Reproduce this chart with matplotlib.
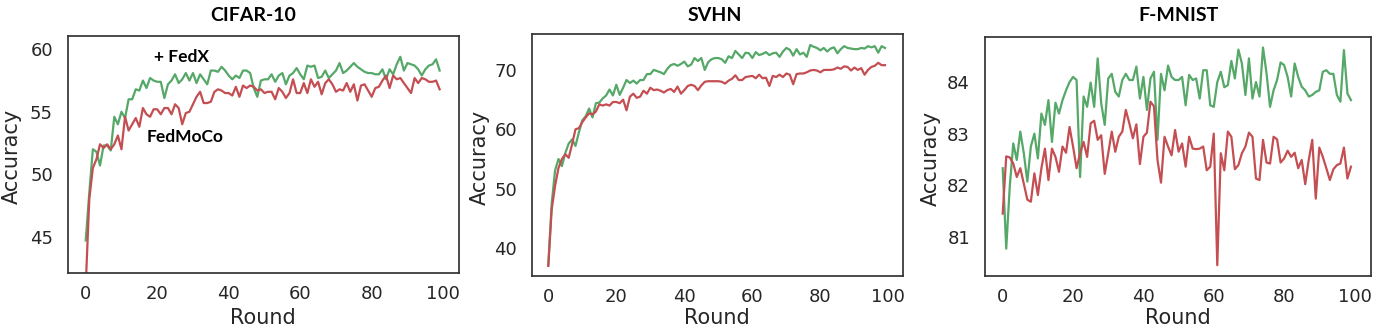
import numpy as np
import matplotlib
matplotlib.use("Agg")
import matplotlib.pyplot as plt

rounds = list(range(100))

cifar_fedx = [44.7, 48.5, 52.0, 51.8, 50.7, 52.3, 52.3, 51.9, 54.6, 54.0,
              55.0, 54.5, 56.0, 56.0, 56.8, 56.7, 57.5, 56.9, 57.7, 57.5,
              57.4, 57.4, 56.1, 57.2, 57.5, 58.0, 57.3, 57.6, 58.1, 57.5,
              58.1, 57.3, 58.0, 57.6, 57.2, 58.3, 58.3, 58.2, 58.6, 58.3,
              57.9, 57.6, 57.9, 57.7, 58.3, 58.3, 58.1, 56.9, 56.2, 57.5,
              57.6, 57.6, 58.0, 57.4, 57.9, 58.1, 57.2, 57.9, 58.1, 58.5,
              58.0, 57.6, 58.7, 58.6, 58.7, 57.7, 57.8, 58.3, 57.7, 58.0,
              58.3, 58.9, 58.1, 58.3, 58.6, 58.9, 58.6, 58.4, 58.2, 58.1,
              58.1, 58.0, 58.0, 58.4, 57.6, 58.4, 58.0, 58.8, 59.4, 58.3,
              58.9, 58.8, 58.7, 58.4, 57.9, 58.4, 58.7, 58.8, 59.2, 58.3]
cifar_moco = [41.0, 48.0, 50.5, 51.2, 52.4, 52.1, 52.4, 52.0, 52.4, 53.1,
              52.0, 54.6, 53.5, 54.0, 54.5, 53.8, 55.3, 54.8, 54.6, 55.2,
              55.2, 54.8, 55.3, 55.3, 54.8, 55.6, 55.3, 54.0, 54.9, 55.0,
              55.6, 56.2, 56.6, 55.7, 55.7, 55.8, 56.6, 56.8, 56.7, 56.5,
              56.5, 56.3, 57.0, 56.2, 57.1, 56.9, 57.1, 57.0, 56.7, 56.8,
              56.5, 56.6, 56.6, 56.0, 56.9, 56.6, 56.1, 56.5, 57.6, 56.5,
              56.5, 57.3, 56.5, 57.6, 57.0, 57.4, 56.4, 57.3, 57.6, 57.2,
              56.6, 56.8, 56.7, 57.3, 56.6, 57.2, 55.9, 57.1, 57.2, 56.7,
              56.2, 56.9, 57.0, 57.5, 57.9, 56.9, 57.9, 57.6, 57.7, 57.3,
              56.9, 56.5, 57.7, 57.3, 57.7, 57.6, 57.4, 57.4, 57.5, 56.8]

svhn_fedx = [37.1, 47.5, 53.1, 55.0, 53.8, 56.0, 57.6, 58.3, 57.2, 59.5,
             61.5, 62.2, 63.5, 62.0, 64.4, 64.5, 65.2, 65.7, 66.7, 65.7,
             67.5, 65.8, 67.0, 68.3, 67.8, 68.2, 67.7, 68.3, 68.3, 69.3,
             69.3, 70.0, 69.8, 69.6, 69.3, 70.2, 70.8, 71.0, 70.7, 71.0,
             71.4, 70.6, 70.9, 72.0, 71.5, 72.0, 70.0, 71.3, 71.8, 72.0,
             72.0, 71.8, 71.2, 72.3, 72.0, 73.2, 72.6, 72.0, 72.9, 72.8,
             72.0, 73.0, 72.5, 72.7, 73.0, 72.5, 72.8, 72.9, 72.2, 73.1,
             73.7, 73.4, 72.4, 73.5, 72.6, 72.9, 72.2, 74.2, 73.9, 73.7,
             73.3, 73.7, 73.1, 73.6, 73.8, 72.8, 73.5, 74.0, 73.7, 73.6,
             73.5, 73.5, 73.7, 73.6, 74.0, 73.8, 74.0, 72.9, 74.0, 73.7]
svhn_moco = [37.0, 46.5, 50.5, 53.5, 55.0, 55.8, 55.2, 57.5, 60.0, 60.2,
             61.2, 62.0, 62.7, 62.5, 63.0, 64.2, 64.0, 64.2, 64.0, 64.6,
             64.6, 64.4, 65.0, 63.2, 65.5, 66.0, 65.3, 65.5, 66.5, 66.0,
             67.0, 66.6, 66.7, 66.5, 66.2, 66.6, 66.8, 66.3, 67.2, 66.0,
             66.6, 67.3, 67.5, 67.3, 66.6, 67.4, 68.0, 68.1, 68.1, 68.1,
             68.1, 68.0, 67.7, 68.2, 68.5, 69.1, 68.3, 68.3, 68.8, 68.9,
             69.0, 68.6, 69.2, 68.6, 68.7, 67.3, 69.0, 68.8, 69.2, 68.8,
             69.4, 69.2, 67.6, 69.3, 69.4, 69.4, 69.6, 69.9, 70.0, 69.9,
             69.6, 70.0, 70.0, 70.0, 70.1, 70.4, 70.2, 70.6, 70.5, 69.9,
             70.4, 70.0, 70.3, 69.2, 70.0, 70.5, 70.7, 71.2, 70.8, 70.8]

fmnist_fedx = [82.33, 80.77, 81.97, 82.81, 82.49, 83.04, 82.62, 82.07, 82.75, 83.00,
               82.52, 83.39, 83.17, 83.65, 82.84, 83.60, 83.39, 83.65, 83.84, 84.00,
               84.10, 84.04, 82.16, 83.72, 83.52, 83.99, 83.52, 84.46, 83.59, 83.17,
               84.07, 84.16, 83.81, 83.72, 84.04, 84.16, 84.04, 84.04, 84.30, 83.68,
               84.10, 83.46, 84.07, 84.20, 82.88, 84.16, 83.84, 84.32, 84.10, 84.04,
               84.04, 84.10, 83.55, 84.14, 84.04, 84.07, 83.68, 84.23, 84.23, 83.55,
               83.52, 84.00, 84.20, 83.90, 83.94, 84.41, 84.07, 84.63, 84.36, 83.75,
               84.46, 83.68, 84.00, 83.72, 84.67, 84.17, 83.52, 83.84, 84.04, 84.38,
               84.33, 84.10, 83.72, 84.36, 84.10, 83.91, 83.84, 83.72, 83.75, 83.81,
               83.84, 84.20, 84.23, 84.16, 84.16, 83.75, 83.62, 84.62, 83.78, 83.65]
fmnist_moco = [81.45, 82.56, 82.54, 82.42, 82.16, 82.33, 82.03, 81.72, 81.68, 82.23,
               81.81, 82.33, 82.71, 82.10, 82.71, 82.55, 82.26, 82.75, 82.63, 83.13,
               82.75, 82.33, 82.62, 82.84, 82.55, 83.20, 83.25, 82.88, 82.97, 82.22,
               82.62, 83.04, 82.65, 82.94, 83.04, 83.46, 83.20, 82.91, 83.18, 82.41,
               82.94, 83.02, 83.62, 83.53, 82.49, 82.05, 82.94, 82.75, 82.58, 83.07,
               82.65, 82.81, 82.36, 82.94, 82.71, 82.70, 82.71, 82.75, 82.29, 82.36,
               83.00, 80.45, 82.62, 82.29, 83.04, 82.94, 82.31, 82.39, 82.62, 82.75,
               83.02, 82.94, 82.13, 82.10, 82.88, 82.44, 82.42, 82.94, 82.89, 82.44,
               82.52, 82.67, 82.55, 82.63, 82.33, 82.49, 82.02, 82.49, 82.88, 81.74,
               82.73, 82.55, 82.33, 82.10, 82.31, 82.39, 82.42, 82.73, 82.13, 82.36]

titles = ["CIFAR-10", "SVHN", "F-MNIST"]
xticks = [0, 20, 40, 60, 80, 100]
yticks = [[45, 50, 55, 60], [40, 50, 60, 70], [81, 82, 83, 84]]
ylims = [(42.12, 61.09), (35.3, 76.0), (80.24, 84.88)]
xlims = [(-4.87, 104.5), (-4.7, 104.2), (-4.95, 104.7)]

GREEN = "#55a868"
RED = "#c44e52"
DARK = "#262626"

W, H = 1381, 334
fig = plt.figure(figsize=(W / 100, H / 100), dpi=100)

# axes boxes in pixels: left, top, right, bottom
boxes = [(68.3, 35.7, 459.3, 272.7), (532.3, 34.3, 902.7, 276.0), (985.3, 36.7, 1371.0, 276.0)]
title_x = [253, 715, 1178]
ylabel_pos = [(12, 156), (480, 157), (931, 158)]
xlabel_x = [263, 717, 1178]

series = [(cifar_fedx, cifar_moco), (svhn_fedx, svhn_moco), (fmnist_fedx, fmnist_moco)]

for i in range(3):
    l, t, r, b = boxes[i]
    ax = fig.add_axes([l / W, (H - b) / H, (r - l) / W, (b - t) / H])
    g, m = series[i]
    ax.plot(rounds, g, color=GREEN, lw=1.6)
    ax.plot(rounds, m, color=RED, lw=1.6)
    ax.set_xlim(*xlims[i])
    ax.set_ylim(*ylims[i])
    ax.set_xticks(xticks)
    ax.set_yticks(yticks[i])
    ax.tick_params(axis="both", length=0, labelsize=13, labelcolor=DARK)
    ax.tick_params(axis="x", pad=9)
    ax.tick_params(axis="y", pad=11)
    for s in ax.spines.values():
        s.set_color("#333333")
        s.set_linewidth(1.25)
    fig.text(title_x[i] / W, (H - 20.7) / H, titles[i], ha="center", va="baseline",
             fontsize=14, fontweight="bold", family="Lato", color="black")
    fig.text(ylabel_pos[i][0] / W, (H - ylabel_pos[i][1]) / H, "Accuracy", rotation=90,
             ha="center", va="center", fontsize=15, color=DARK)
    fig.text(xlabel_x[i] / W, (H - 323.5) / H, "Round", ha="center", va="baseline",
             fontsize=15, color=DARK)
    if i == 0:
        ax.text(19.2, 59.0, "+ FedX", ha="left", va="baseline", fontsize=12.5,
                fontweight="bold", family="Lato", color="black")
        ax.text(17.05, 52.6, "FedMoCo", ha="left", va="baseline", fontsize=12.5,
                fontweight="bold", family="Lato", color="black")

fig.savefig("out.png", dpi=100)
